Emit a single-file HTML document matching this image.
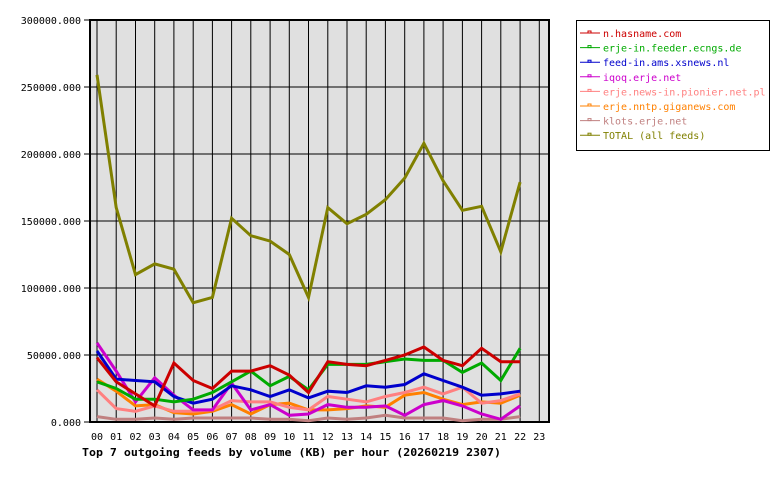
<!DOCTYPE html>
<html><head><style>
body{margin:0;background:#fff}
svg text{font-family:"DejaVu Sans Mono","Liberation Mono",monospace;font-size:10px}
</style></head><body>
<svg id="s" width="780" height="480" xmlns="http://www.w3.org/2000/svg"></svg>
<script>
const s=document.getElementById('s');
let h='';
const L=90,T=20,R=549,B=422;
const X=i=>97+i*19.23, Y=v=>B-v*(B-T)/300000;
h+=`<rect x="${L}" y="${T}" width="${R-L}" height="${B-T}" fill="#e0e0e0" stroke="#000" stroke-width="2"/>`;
for(let i=0;i<24;i++){const x=X(i).toFixed(1);h+=`<line x1="${x}" y1="${T}" x2="${x}" y2="${B}" stroke="#000" stroke-width="1"/>`;h+=`<text x="${x}" y="440" text-anchor="middle" fill="#000">${String(i).padStart(2,'0')}</text>`;}
for(let k=0;k<=6;k++){const y=Y(k*50000).toFixed(1);h+=`<line x1="${L-6}" y1="${y}" x2="${R}" y2="${y}" stroke="#000" stroke-width="1"/>`;h+=`<text x="81" y="${(+y+4)}" text-anchor="end">${k*50000}.000</text>`;}
const S=[
["#808000","TOTAL (all feeds)",[259,160,110,118,114,89,93,152,139,135,125,93,160,148,155,166,182,208,180,158,161,127,179]],
["#c08080","klots.erje.net",[4,2,2,3,2,3,3,3,3,2,2,1,3,2,3,5,3,3,3,1,2,2,4]],
["#ff8000","erje.nntp.giganews.com",[32,23,12,13,7,6,8,13,6,13,14,9,9,10,12,11,20,22,17,13,15,14,20]],
["#ff8080","erje.news-in.pionier.net.pl",[24,10,8,12,8,8,9,16,15,15,11,9,19,17,15,19,22,26,21,26,14,16,21]],
["#cc00cc","iqoq.erje.net",[59,38,15,33,20,9,9,29,9,13,5,6,13,11,11,12,5,13,16,12,6,2,12]],
["#0000cc","feed-in.ams.xsnews.nl",[53,32,31,30,19,14,17,27,24,19,24,18,23,22,27,26,28,36,31,26,20,21,23]],
["#00aa00","erje-in.feeder.ecngs.de",[30,25,17,17,15,17,22,30,38,27,34,24,43,43,43,45,47,46,46,37,44,31,55]],
["#cc0000","n.hasname.com",[48,30,21,12,44,31,25,38,38,42,35,22,45,43,42,46,50,56,46,42,55,45,45]]];
for(const [c,n,d] of S){h+=`<polyline fill="none" stroke="${c}" stroke-width="3" points="${d.map((v,i)=>X(i).toFixed(1)+','+Y(v*1000).toFixed(1)).join(' ')}"/>`;}
h+=`<rect x="576.5" y="20.5" width="193" height="130" fill="#fff" stroke="#000" stroke-width="1"/>`;
const leg=S.slice().reverse();
leg.forEach(([c,n],i)=>{const y=33+i*14.6;h+=`<line x1="580" y1="${y}" x2="600" y2="${y}" stroke="${c}"/><rect x="588" y="${y-2}" width="3" height="2" fill="none" stroke="${c}" stroke-width="1"/><text x="603" y="${y+4}" fill="${c}">${n}</text>`;});
h+=`<text x="82" y="456" font-weight="bold" style="font-size:11px" textLength="419" lengthAdjust="spacingAndGlyphs">Top 7 outgoing feeds by volume (KB) per hour (20260219 2307)</text>`;
s.innerHTML=h;
</script>
</body></html>
